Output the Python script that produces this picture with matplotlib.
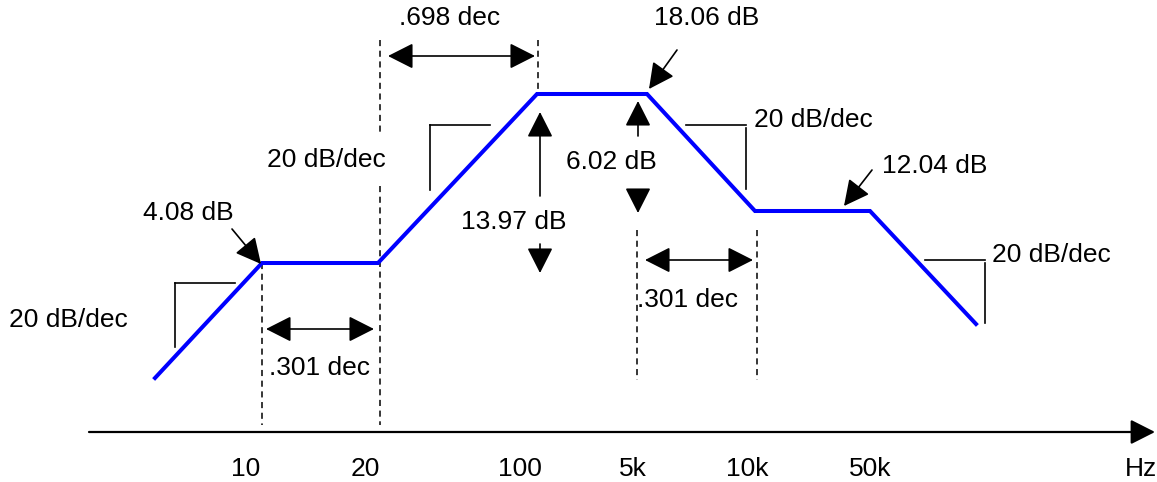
import matplotlib.pyplot as plt

plt.rcParams['font.family'] = ['Liberation Sans', 'DejaVu Sans']

# asymptotic Bode magnitude curve, drawn in diagram (pixel-like) coordinates
curve_x = [155, 262, 378, 537, 647, 755, 870, 976]
curve_y = [378, 263, 263, 94, 94, 211, 211, 324]

# frequency tick labels along the bottom axis
tick_pos = [246, 365, 520, 633, 747, 870, 1141]
tick_labels = ['10', '20', '100', '5k', '10k', '50k', 'Hz']

# dashed reference lines: (x, y_top, y_bottom)
dashed_x = [262, 380, 380, 538, 637, 757]
dashed_top = [263, 40, 186, 40, 230, 230]
dashed_bot = [425, 134, 425, 90, 380, 380]

# slope triangles: horizontal leg (x0, x1, y), vertical leg x, vertical y range
tri_hx0 = [175, 430, 686, 925]
tri_hx1 = [235, 490, 746, 985]
tri_hy = [283, 125, 125, 260]
tri_vx = [175, 430, 746, 985]
tri_vy0 = [283, 125, 128, 263]
tri_vy1 = [347, 190, 189, 323]
slope_label = '20 dB/dec'
slope_text_x = [9, 267, 754, 992]
slope_text_y = [320, 160, 120, 255]

# horizontal span arrows (decades)
span_x0 = [266, 388, 645]
span_x1 = [374, 535, 753]
span_y = [329, 56, 260]
span_labels = ['.301 dec', '.698 dec', '.301 dec']
span_text_x = [269, 399, 637]
span_text_y = [368, 18, 300]

# level annotations with slanted arrows
lvl_labels = ['4.08 dB', '18.06 dB', '12.04 dB']
lvl_text_x = [143, 654, 882]
lvl_text_y = [213, 18, 166]
lvl_tail = [(232, 229), (677, 50), (872, 170)]
lvl_tip = [(261, 264), (649, 89), (844, 206)]

# vertical difference arrows: x, up arrow (from, to), down arrow (from, to)
diff_x = [540, 638]
diff_up = [(196, 112), (136, 101)]
diff_down = [(244, 273), (190, 213)]
diff_labels = ['13.97 dB', '6.02 dB']
diff_text_x = [461, 566]
diff_text_y = [222, 162]

fs = 19
head = 'head_length=0.75,head_width=0.38'

fig = plt.figure(figsize=(11.57, 4.82), dpi=100)
ax = fig.add_axes([0, 0, 1, 1])
ax.set_xlim(0, 1157)
ax.set_ylim(482, 0)
ax.axis('off')

# frequency axis with arrow
ax.annotate('', xy=(1155, 432), xytext=(89, 432),
            arrowprops=dict(arrowstyle='-|>,' + head, color='black', lw=1.6,
                            mutation_scale=20, shrinkA=0, shrinkB=0))
for p, t in zip(tick_pos, tick_labels):
    ax.text(p, 469, t, fontsize=fs, ha='center', va='center')

for x, y0, y1 in zip(dashed_x, dashed_top, dashed_bot):
    ax.plot([x, x], [y0, y1], color='black', lw=1.1, ls=(0, (4, 3)))

for hx0, hx1, hy, vx, vy0, vy1 in zip(tri_hx0, tri_hx1, tri_hy, tri_vx, tri_vy0, tri_vy1):
    ax.plot([hx0, hx1], [hy, hy], color='black', lw=1.2)
    ax.plot([vx, vx], [vy0, vy1], color='black', lw=1.2)
for x, y in zip(slope_text_x, slope_text_y):
    ax.text(x, y, slope_label, fontsize=fs, ha='left', va='center')

ax.plot(curve_x, curve_y, color='#0000ff', lw=2.9, solid_joinstyle='miter')

for x0, x1, y, lab, tx, ty in zip(span_x0, span_x1, span_y, span_labels, span_text_x, span_text_y):
    ax.annotate('', xy=(x1, y), xytext=(x0, y),
                arrowprops=dict(arrowstyle='<|-|>,' + head, color='black', lw=1.2,
                                mutation_scale=21, shrinkA=0, shrinkB=0))
    ax.text(tx, ty, lab, fontsize=fs, ha='left', va='center')

for lab, tx, ty, tail, tip in zip(lvl_labels, lvl_text_x, lvl_text_y, lvl_tail, lvl_tip):
    ax.annotate('', xy=tip, xytext=tail,
                arrowprops=dict(arrowstyle='-|>,' + head, color='black', lw=1.2,
                                mutation_scale=21, shrinkA=0, shrinkB=0))
    ax.text(tx, ty, lab, fontsize=fs, ha='left', va='center')

for x, up, dn, lab, tx, ty in zip(diff_x, diff_up, diff_down, diff_labels, diff_text_x, diff_text_y):
    for a, b in (up, dn):
        ax.annotate('', xy=(x, b), xytext=(x, a),
                    arrowprops=dict(arrowstyle='-|>,' + head, color='black', lw=1.2,
                                    mutation_scale=21, shrinkA=0, shrinkB=0))
    ax.text(tx, ty, lab, fontsize=fs, ha='left', va='center')

fig.savefig('out.png', dpi=100)
